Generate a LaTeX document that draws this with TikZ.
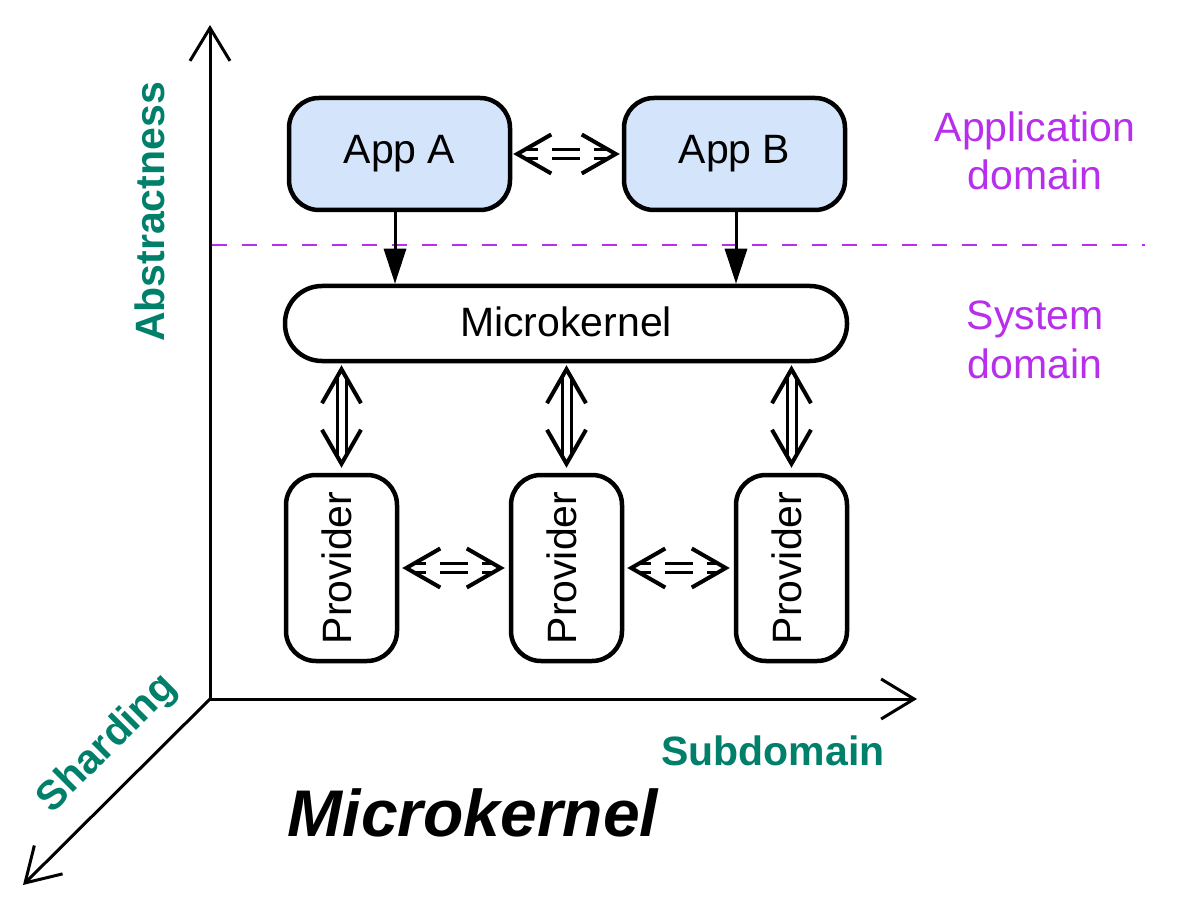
\documentclass[tikz,border=0pt]{standalone}
\usepackage{fontspec}
\setmainfont{Liberation Sans}
\usetikzlibrary{arrows.meta,calc}
\definecolor{purp}{RGB}{183,46,236}
\definecolor{tealx}{HTML}{00806A}
\definecolor{appblue}{HTML}{D4E5FB}
\newcommand{\provtext}{\rotatebox{90}{Provider\rule[-10pt]{0pt}{0pt}}}
\tikzset{
  box/.style={draw=black, line width=4.5pt, rounded corners=30pt, inner sep=0pt,
    font=\fontsize{41pt}{48pt}\selectfont},
  lbl/.style={inner sep=0pt, font=\fontsize{41pt}{48pt}\selectfont, text=purp},
  axl/.style={inner sep=0pt, font=\fontsize{41pt}{48pt}\selectfont\bfseries, text=tealx},
  axis/.style={line width=3pt, draw=black},
  axtip/.tip={Straight Barb[length=33pt,width=40pt]},
  dshaft/.style={line width=3pt, double=white, double distance=6pt, shorten <=7pt, shorten >=7pt},
  barb/.pic={\draw[line width=4pt] (34,-19.5) -- (0,0) -- (34,19.5);},
  solidarrow/.style={line width=3pt, -{Triangle[length=35pt,width=22pt]}},
}
\begin{document}
\begin{tikzpicture}[x=1pt,y=-1pt]
\useasboundingbox (0,0) rectangle (1178,909);
% axes
\coordinate (O) at (210,699);
\coordinate (Ytop) at (210,25);
\coordinate (Xend) at (917,699);
\coordinate (Zend) at (23,885);
\draw[axis, axtip-axtip] (Ytop) -- (O) -- (Xend);
\draw[axis, -axtip] (O) -- (Zend);
% divider
\coordinate (dL) at (212,245);
\coordinate (dR) at (1145,245);
\draw[purp, line width=2.5pt, dash pattern=on 15pt off 15pt] (dL) -- (dR);
% boxes
\node[box, fill=appblue, minimum width=221pt, minimum height=112pt] (appA) at (399.5,154) {App A};
\node[box, fill=appblue, minimum width=221pt, minimum height=112pt] (appB) at (734.5,154) {App B};
\node[box, rounded corners=37pt, minimum width=562pt, minimum height=75pt] (mk) at (566,323.5) {\raisebox{3pt}{Microkernel}};
\node[box, minimum width=111pt, minimum height=186pt] (p1) at (341.5,568) {\provtext};
\node[box, minimum width=111pt, minimum height=186pt] (p2) at (566.5,568) {\provtext};
\node[box, minimum width=111pt, minimum height=186pt] (p3) at (791.5,568) {\provtext};
% app -> microkernel
\draw[solidarrow] ([xshift=-4.5pt]appA.south) -- ([xshift=-4.5pt]appA.south |- mk.north);
\draw[solidarrow] ([xshift=1.5pt]appB.south) -- ([xshift=1.5pt]appB.south |- mk.north);
% microkernel <=> providers
\foreach \p in {p1,p2,p3}{
  \coordinate (\p top) at ($(mk.south -| \p.north)+(0,6)$);
  \coordinate (\p bot) at ($(\p.north)+(0,-9)$);
  \draw[dshaft] (\p top) -- (\p bot);
  \pic[rotate=-90] at (\p top) {barb};
  \pic[rotate=90] at (\p bot) {barb};
}
% dashed double arrows
\coordinate (abL) at ($(appA.east)+(5,0)$);
\coordinate (abR) at ($(appB.west)+(-6,0)$);
\draw[dshaft, dash pattern=on 28pt off 14pt, dash phase=14.5pt] (abL) -- (abR);
\pic at (abL) {barb};
\pic[rotate=180] at (abR) {barb};
\coordinate (q1L) at ($(p1.east)+(7,0)$);
\coordinate (q1R) at ($(p2.west)+(-8,0)$);
\draw[dshaft, dash pattern=on 28pt off 14pt, dash phase=15pt] (q1L) -- (q1R);
\pic at (q1L) {barb};
\pic[rotate=180] at (q1R) {barb};
\coordinate (q2L) at ($(p2.east)+(7,0)$);
\coordinate (q2R) at ($(p3.west)+(-8,0)$);
\draw[dshaft, dash pattern=on 28pt off 14pt, dash phase=15pt] (q2L) -- (q2R);
\pic at (q2L) {barb};
\pic[rotate=180] at (q2R) {barb};
% labels
\node[lbl, anchor=base] (ad1) at (1035,142) {Application};
\node[lbl, anchor=base] (ad2) at (1035,190) {domain};
\node[lbl, anchor=base] (sd1) at (1035,330) {System};
\node[lbl, anchor=base] (sd2) at (1035,378) {domain};
\node[axl, rotate=90] (abs) at (150,212) {Abstractness};
\node[axl, rotate=45] (shd) at (108,744) {Sharding};
\node[axl, anchor=base] (sub) at (773,765) {Subdomain};
\node[inner sep=0pt, font=\fontsize{66pt}{72pt}\selectfont\bfseries\itshape, anchor=base] (title) at (473,836) {Microkernel};
\end{tikzpicture}
\end{document}
